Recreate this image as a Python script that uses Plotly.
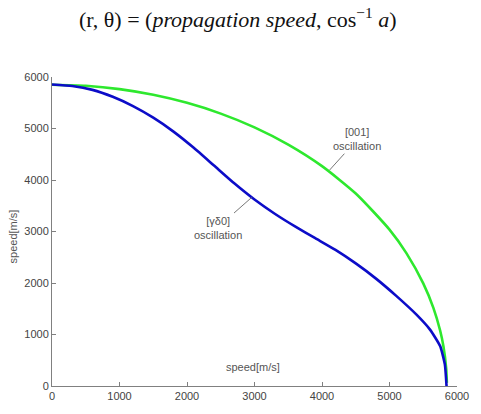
import plotly.graph_objects as go

# [001] oscillation branch: (x, y) speed components in m/s
green_x = [0, 500, 1000, 1500, 2000, 2500, 3000, 3500, 4000, 4500, 5000, 5250, 5500, 5650, 5750, 5800, 5840, 5850]
green_y = [5850, 5829, 5764, 5654, 5498, 5289, 5022, 4687, 4269, 3738, 3037, 2581, 1993, 1517, 1077, 763, 340, 60]

# [γδ0] oscillation branch
blue_x = [0, 300, 600, 900, 1200, 1500, 1800, 2100, 2400, 2700, 3000, 3300, 3600, 3900,
          4200, 4500, 4800, 5100, 5400, 5600, 5750, 5820, 5845]
blue_y = [5855, 5825, 5750, 5615, 5435, 5210, 4940, 4625, 4280, 3935, 3620, 3344, 3098, 2870,
          2642, 2380, 2085, 1750, 1385, 1095, 775, 420, 0]

tick_vals = [0, 1000, 2000, 3000, 4000, 5000, 6000]
tick_text = ["0", "1000", "2000", "3000", "4000", "5000", "6000"]

font_family = "Liberation Sans, Arial, sans-serif"
label_color = "#555555"

fig = go.Figure()
fig.add_trace(go.Scatter(x=green_x, y=green_y, mode="lines",
                         line=dict(color="#2ee82e", width=2.6, shape="spline", smoothing=0.6),
                         name="[001] oscillation"))
fig.add_trace(go.Scatter(x=blue_x, y=blue_y, mode="lines",
                         line=dict(color="#0c0cc8", width=2.6, shape="spline", smoothing=0.5),
                         name="[γδ0] oscillation"))

axis_common = dict(
    range=[0, 6000], tickvals=tick_vals, ticktext=tick_text,
    showgrid=False, zeroline=False, showline=True, linecolor="#808080", linewidth=1,
    ticks="inside", ticklen=4, tickcolor="#808080",
    tickfont=dict(family=font_family, size=11, color="#444444"),
    mirror=False,
)
fig.update_xaxes(**axis_common)
fig.update_yaxes(**axis_common)

# Curve call-outs with leader lines
fig.add_annotation(x=4111, y=4191, xref="x", yref="y", text="[001]<br>oscillation",
                   showarrow=True, arrowhead=0, arrowwidth=1, arrowcolor="#777777",
                   ax=28, ay=-31, font=dict(family=font_family, size=11, color=label_color))
fig.add_annotation(x=2957, y=3660, xref="x", yref="y", text="[γδ0]<br>oscillation",
                   showarrow=True, arrowhead=0, arrowwidth=1, arrowcolor="#777777",
                   ax=-34, ay=30, font=dict(family=font_family, size=11, color=label_color))

# Axis titles
fig.add_annotation(x=0.496, y=0.063, xref="paper", yref="paper", text="speed[m/s]",
                   xanchor="center", yanchor="middle", showarrow=False,
                   font=dict(family=font_family, size=11, color=label_color))
fig.add_annotation(x=-0.097, y=0.483, xref="paper", yref="paper", text="speed[m/s]",
                   xanchor="center", yanchor="middle", textangle=-90, showarrow=False,
                   font=dict(family=font_family, size=11, color=label_color))

# Heading
fig.add_annotation(x=0.457, y=1.19, xref="paper", yref="paper",
                   text="(r, θ) = (<i>propagation speed</i>, cos<sup>−1</sup> <i>a</i>)",
                   xanchor="center", yanchor="middle", showarrow=False,
                   font=dict(family="Liberation Serif, DejaVu Serif, serif", size=22, color="#111111"))

fig.update_layout(
    width=481, height=414,
    margin=dict(l=52, r=13, t=77, b=18),
    paper_bgcolor="white", plot_bgcolor="white",
    showlegend=False,
)

fig.write_html("out.html")
